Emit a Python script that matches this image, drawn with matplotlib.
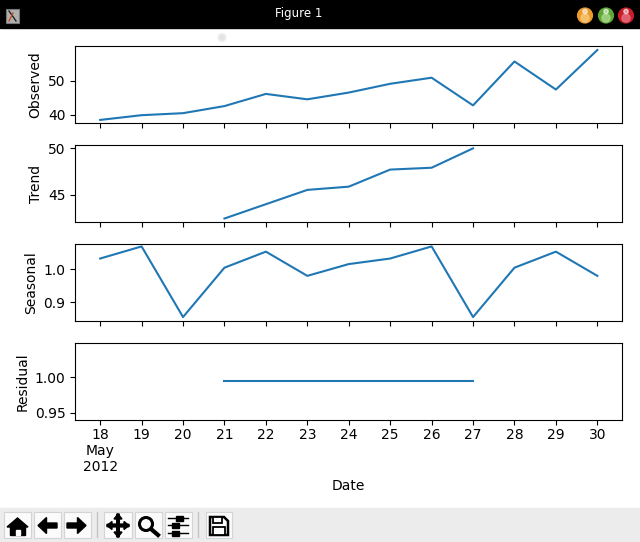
import datetime as dt

import matplotlib
matplotlib.use("Agg")
import matplotlib.pyplot as plt
from matplotlib.patches import Circle, FancyArrow, Polygon, Rectangle

dates = [dt.datetime(2012, 5, d) for d in range(18, 31)]
day_labels = ["18\nMay\n2012", "19", "20", "21", "22", "23", "24", "25", "26", "27", "28", "29", "30"]

nan = float("nan")
observed = [38.4, 39.8, 40.4, 42.5, 46.1, 44.5, 46.5, 49.1, 50.9, 42.7, 55.7, 47.4, 59.1]
trend = [nan, nan, nan, 42.4, 43.95, 45.5, 45.85, 47.7, 47.9, 50.0, nan, nan, nan]
seasonal = [1.033, 1.07, 0.854, 1.005, 1.054, 0.98, 1.016, 1.033, 1.07, 0.854, 1.005, 1.054, 0.98]
residual = [nan, nan, nan, 0.9948, 0.9948, 0.9948, 0.9948, 0.9948, 0.9948, 0.9948, nan, nan, nan]

W, H = 640, 542
fig = plt.figure(figsize=(W / 100, H / 100), dpi=100)

# window frame, drawn in pixel coordinates
ui = fig.add_axes([0, 0, 1, 1])
ui.set_xlim(0, W)
ui.set_ylim(H, 0)
ui.axis("off")
ui.add_patch(Rectangle((0, 0), W, 28, color="black"))
ui.add_patch(Rectangle((0, 508), W, 34, color="#ececec"))
ui.text(299, 13.5, "Figure 1", color="white", fontsize=8.5, ha="center", va="center")

# window buttons
for cx, dark, light in [(585, "#ec9a2c", "#f8c878"), (606, "#5fa838", "#a8d888"), (626, "#c81e2c", "#e87080")]:
    ui.add_patch(Circle((cx, 15.5), 7.4, color=dark))
    ui.add_patch(Circle((cx, 18), 4, color=light, alpha=0.8))
    ui.add_patch(Circle((cx, 11.5), 2.2, color="white", alpha=0.55))

# app icon
ui.add_patch(Rectangle((6, 9), 13, 14, fc="#b0b0b0", ec="#777777", lw=0.8))
ui.plot([9, 16], [11, 21], color="#222222", lw=1)
ui.plot([9, 13], [21, 13], color="#c05020", lw=1)

# smudge above the first panel
ui.add_patch(Circle((222, 37.5), 4, color="#f0f0f0"))
ui.add_patch(Circle((222, 37.5), 2.5, color="#e4e4e4"))

# toolbar
for x0, x1 in [(4, 31), (34, 61), (64, 91), (104, 132), (135, 162), (165, 192), (206, 232)]:
    ui.add_patch(Rectangle((x0, 512), x1 - x0, 26, fc="#fbfbfb", ec="#d4d4d4", lw=0.8))
for x in (97, 198):
    ui.plot([x, x], [512, 537], color="#c4c4c4", lw=1)

# home
ui.add_patch(Polygon([(7, 527), (17.5, 518), (28, 527)], color="black"))
ui.add_patch(Rectangle((10, 526), 15, 9, color="black"))
ui.add_patch(Rectangle((15.5, 529.5), 4, 5.5, color="#fbfbfb"))
# back / forward
ui.add_patch(FancyArrow(57, 525.5, -19, 0, width=5, head_width=16, head_length=8.5,
                        length_includes_head=True, color="black"))
ui.add_patch(FancyArrow(67, 525.5, 19, 0, width=5, head_width=16, head_length=8.5,
                        length_includes_head=True, color="black"))
# pan
ui.add_patch(FancyArrow(107, 525.5, 22, 0, width=2.4, head_width=8, head_length=5,
                        length_includes_head=True, color="black"))
ui.add_patch(FancyArrow(129, 525.5, -22, 0, width=2.4, head_width=8, head_length=5,
                        length_includes_head=True, color="black"))
ui.add_patch(FancyArrow(118, 514, 0, 23, width=2.4, head_width=8, head_length=5,
                        length_includes_head=True, color="black"))
ui.add_patch(FancyArrow(118, 537, 0, -23, width=2.4, head_width=8, head_length=5,
                        length_includes_head=True, color="black"))
# zoom
ui.add_patch(Circle((146, 524), 6.5, fc="none", ec="black", lw=2.2))
ui.plot([151, 158], [529, 535], color="black", lw=3)
# sliders
for y, x in [(518, 179), (525, 175), (533, 175)]:
    ui.plot([168, 188], [y, y], color="black", lw=1)
    ui.add_patch(Rectangle((x - 3.5, y - 2.5), 7, 5, color="black"))
# save
ui.add_patch(Polygon([(210, 517), (224, 517), (228, 521), (228, 535), (210, 535)],
                     fc="#fbfbfb", ec="black", lw=1.8))
ui.add_patch(Rectangle((213, 517), 9, 6, fc="#fbfbfb", ec="black", lw=1.3))
ui.add_patch(Rectangle((213, 527), 12, 8, fc="#fbfbfb", ec="black", lw=1.3))

# panels: series, label, pixel top, y limits, y ticks, tick labels
panels = [
    (observed, "Observed", 46.3, (37.4, 60.2), [40, 50], ["40", "50"]),
    (trend, "Trend", 145.3, (41.99, 50.33), [45, 50], ["45", "50"]),
    (seasonal, "Seasonal", 244.3, (0.841, 1.0765), [0.9, 1.0], ["0.9", "1.0"]),
    (residual, "Residual", 343.3, (0.9397, 1.048), [0.95, 1.00], ["0.95", "1.00"]),
]
left, right, height = 75.3, 622.2, 77

for i, (values, label, top, ylim, yticks, ylabels) in enumerate(panels):
    ax = fig.add_axes([left / W, 1 - (top + height) / H, (right - left) / W, height / H])
    ax.plot(dates, values, color="C0")
    ax.set_xlim(dt.datetime(2012, 5, 17, 9, 36), dt.datetime(2012, 5, 30, 14, 24))
    ax.set_ylim(*ylim)
    ax.set_yticks(yticks)
    ax.set_yticklabels(ylabels)
    ax.set_ylabel(label)
    ax.set_xticks(dates)
    if i == 3:
        ax.set_xticklabels(day_labels)
        ax.tick_params(axis="x", pad=2)
        ax.set_xlabel("Date", labelpad=3.5)
    else:
        ax.set_xticklabels([])

fig.savefig("out.png", dpi=100)
